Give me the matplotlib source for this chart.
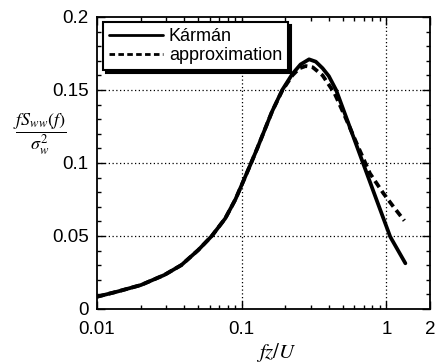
"""Karman spectrum vs. its approximation, normalised by variance."""
import matplotlib
matplotlib.use("Agg")
import matplotlib.pyplot as plt
from matplotlib.ticker import FixedLocator, MultipleLocator, NullFormatter

plt.rcParams["font.family"] = ["Liberation Sans", "DejaVu Sans"]
plt.rcParams["mathtext.fontset"] = "stix"

# values
karman_x = [0.01, 0.0138, 0.0201, 0.0292, 0.0383, 0.0501, 0.0621, 0.0769, 0.0904,
            0.1, 0.115, 0.128, 0.162, 0.1905, 0.224, 0.255, 0.292, 0.325, 0.362,
            0.40, 0.449, 0.557, 0.69, 0.855, 1.062, 1.352]
karman_y = [0.0084, 0.0119, 0.0164, 0.0233, 0.0301, 0.0404, 0.050, 0.062, 0.075,
            0.085, 0.099, 0.110, 0.1352, 0.150, 0.161, 0.1675, 0.171, 0.1694, 0.1649,
            0.1595, 0.150, 0.1249, 0.0998, 0.0747, 0.0495, 0.0313]

approx_x = [0.01, 0.0138, 0.0201, 0.0292, 0.0383, 0.0501, 0.0621, 0.0769, 0.0904,
            0.1, 0.115, 0.128, 0.162, 0.1905, 0.224, 0.25, 0.277, 0.31, 0.362,
            0.438, 0.518, 0.637, 0.769, 0.953, 1.119, 1.33]
approx_y = [0.0084, 0.0119, 0.0164, 0.0233, 0.0301, 0.0404, 0.050, 0.062, 0.075,
            0.085, 0.099, 0.110, 0.1352, 0.1495, 0.160, 0.1648, 0.1664, 0.1655, 0.160,
            0.1477, 0.1317, 0.1112, 0.0929, 0.0792, 0.070, 0.0605]

x_ticks = [0.01, 0.1, 1, 2]
x_labels = ["0.01", "0.1", "1", "2"]
y_ticks = [0, 0.05, 0.1, 0.15, 0.2]
y_labels = ["0", "0.05", "0.1", "0.15", "0.2"]

fig = plt.figure(figsize=(4.38, 3.63), dpi=100)
ax = fig.add_axes([0.2215, 0.1488, 0.7602, 0.8044])

ax.plot(karman_x, karman_y, color="black", lw=2.7, label="Kármán",
        solid_capstyle="round", solid_joinstyle="round")
ax.plot(approx_x, approx_y, color="black", lw=2.7, ls=(0, (2.0, 1.2)),
        label="approximation")

ax.set_xscale("log")
ax.set_xlim(0.01, 2)
ax.set_ylim(0, 0.2)
ax.xaxis.set_major_locator(FixedLocator(x_ticks))
ax.set_xticklabels(x_labels)
ax.xaxis.set_minor_formatter(NullFormatter())
ax.set_yticks(y_ticks)
ax.set_yticklabels(y_labels)
ax.yaxis.set_minor_locator(MultipleLocator(0.01))

ax.tick_params(which="both", direction="in", top=True, right=True,
               labelsize=13.5, width=1)
ax.tick_params(which="major", length=6)
ax.tick_params(which="minor", length=3)
ax.tick_params(axis="x", which="major", pad=9)
ax.tick_params(axis="y", which="major", pad=6)
for s in ax.spines.values():
    s.set_linewidth(1.3)

for gx in (0.1, 1):
    ax.axvline(gx, color="black", ls=(0, (1, 2)), lw=0.9, zorder=0)
for gy in (0.05, 0.1, 0.15):
    ax.axhline(gy, color="black", ls=(0, (1, 2)), lw=0.9, zorder=0)

leg = ax.legend(loc="upper left", bbox_to_anchor=(0.018, 0.983), borderaxespad=0,
                fontsize=13, handlelength=3.0, handletextpad=0.3,
                borderpad=0.35, labelspacing=0.1, fancybox=False,
                shadow={"color": "black", "alpha": 1})
leg.get_frame().set_edgecolor("black")
leg.get_frame().set_linewidth(1.5)
leg.get_frame().set_alpha(1)
for h in leg.get_lines():
    h.set_linewidth(2.0)

ax.set_xlabel(r"$fz/U$", fontsize=15)
ax.xaxis.set_label_coords(0.54, -0.11)
fig.text(0.09, 0.63, r"$\dfrac{fS_{ww}(f)}{\sigma_w^2}$", fontsize=13,
         ha="center", va="center")

fig.savefig("out.png", dpi=100)
